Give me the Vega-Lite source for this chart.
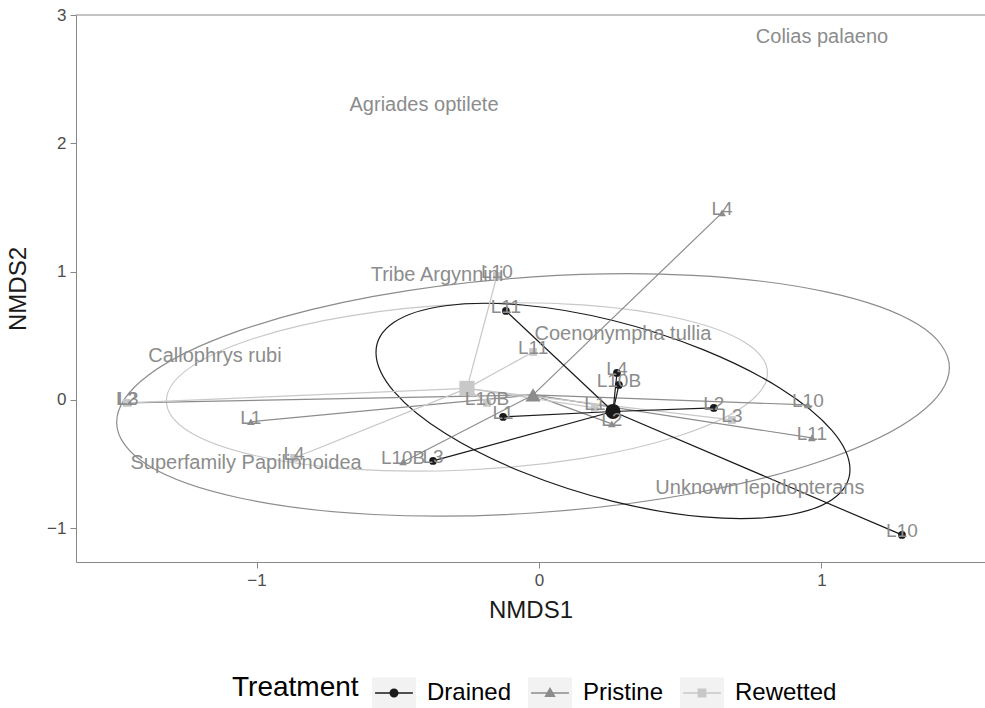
{
"$schema":"https://vega.github.io/schema/vega-lite/v6.json",
"width":909,"height":547,
"autosize":{"type":"none"},
"padding":{"left":76,"top":15,"right":0,"bottom":146},
"background":"white",
"config":{"view":{"stroke":null},"font":"Liberation Sans",
 "range":{"category":["#1a1a1a","#8c8c8c","#c8c8c8"],"symbol":["circle","triangle-up","square"]},
 "axis":{"grid":false,"domainColor":"#888888","tickColor":"#888888","labelColor":"#4d4d4d","titleColor":"#1a1a1a","titleFontWeight":"normal","labelFontSize":17,"titleFontSize":24,"tickSize":6,"labelPadding":4},
 "axisX":{"titlePadding":10},
 "axisY":{"titlePadding":16}},
"datasets":{
 "ellipses":[
  {"Treatment":"Pristine","k":0,"x":1.453,"y":0.253},{"Treatment":"Pristine","k":1,"x":1.341,"y":0.589},{"Treatment":"Pristine","k":2,"x":1.021,"y":0.840},{"Treatment":"Pristine","k":3,"x":0.544,"y":0.971},
  {"Treatment":"Pristine","k":4,"x":-0.021,"y":0.959},{"Treatment":"Pristine","k":5,"x":-0.586,"y":0.807},{"Treatment":"Pristine","k":6,"x":-1.063,"y":0.538},{"Treatment":"Pristine","k":7,"x":-1.383,"y":0.193},
  {"Treatment":"Pristine","k":8,"x":-1.495,"y":-0.175},{"Treatment":"Pristine","k":9,"x":-1.383,"y":-0.511},{"Treatment":"Pristine","k":10,"x":-1.063,"y":-0.762},{"Treatment":"Pristine","k":11,"x":-0.586,"y":-0.893},
  {"Treatment":"Pristine","k":12,"x":-0.021,"y":-0.881},{"Treatment":"Pristine","k":13,"x":0.544,"y":-0.729},{"Treatment":"Pristine","k":14,"x":1.021,"y":-0.460},{"Treatment":"Pristine","k":15,"x":1.341,"y":-0.115},
  {"Treatment":"Rewetted","k":0,"x":0.809,"y":0.210},{"Treatment":"Rewetted","k":1,"x":0.728,"y":0.450},{"Treatment":"Rewetted","k":2,"x":0.497,"y":0.635},{"Treatment":"Rewetted","k":3,"x":0.153,"y":0.741},
  {"Treatment":"Rewetted","k":4,"x":-0.255,"y":0.748},{"Treatment":"Rewetted","k":5,"x":-0.663,"y":0.657},{"Treatment":"Rewetted","k":6,"x":-1.007,"y":0.481},{"Treatment":"Rewetted","k":7,"x":-1.238,"y":0.248},
  {"Treatment":"Rewetted","k":8,"x":-1.319,"y":-0.008},{"Treatment":"Rewetted","k":9,"x":-1.238,"y":-0.248},{"Treatment":"Rewetted","k":10,"x":-1.007,"y":-0.433},{"Treatment":"Rewetted","k":11,"x":-0.663,"y":-0.539},
  {"Treatment":"Rewetted","k":12,"x":-0.255,"y":-0.546},{"Treatment":"Rewetted","k":13,"x":0.153,"y":-0.455},{"Treatment":"Rewetted","k":14,"x":0.497,"y":-0.279},{"Treatment":"Rewetted","k":15,"x":0.728,"y":-0.046},
  {"Treatment":"Drained","k":0,"x":1.101,"y":-0.542},{"Treatment":"Drained","k":1,"x":1.037,"y":-0.237},{"Treatment":"Drained","k":2,"x":0.855,"y":0.090},{"Treatment":"Drained","k":3,"x":0.583,"y":0.390},
  {"Treatment":"Drained","k":4,"x":0.262,"y":0.619},{"Treatment":"Drained","k":5,"x":-0.059,"y":0.740},{"Treatment":"Drained","k":6,"x":-0.331,"y":0.734},{"Treatment":"Drained","k":7,"x":-0.513,"y":0.605},
  {"Treatment":"Drained","k":8,"x":-0.577,"y":0.370},{"Treatment":"Drained","k":9,"x":-0.513,"y":0.065},{"Treatment":"Drained","k":10,"x":-0.331,"y":-0.262},{"Treatment":"Drained","k":11,"x":-0.059,"y":-0.562},
  {"Treatment":"Drained","k":12,"x":0.262,"y":-0.791},{"Treatment":"Drained","k":13,"x":0.583,"y":-0.912},{"Treatment":"Drained","k":14,"x":0.855,"y":-0.906},{"Treatment":"Drained","k":15,"x":1.037,"y":-0.777}
 ],
 "sites":[
  {"Treatment":"Pristine","Site":"L4","x":0.648,"y":1.458,"cx":-0.021,"cy":0.039},
  {"Treatment":"Pristine","Site":"L3","x":-1.455,"y":-0.023,"cx":-0.021,"cy":0.039},
  {"Treatment":"Pristine","Site":"L1","x":-1.02,"y":-0.17,"cx":-0.021,"cy":0.039},
  {"Treatment":"Pristine","Site":"L10B","x":-0.481,"y":-0.483,"cx":-0.021,"cy":0.039},
  {"Treatment":"Pristine","Site":"L10","x":0.952,"y":-0.039,"cx":-0.021,"cy":0.039},
  {"Treatment":"Pristine","Site":"L11","x":0.966,"y":-0.296,"cx":-0.021,"cy":0.039},
  {"Treatment":"Pristine","Site":"L2","x":0.258,"y":-0.187,"cx":-0.021,"cy":0.039},
  {"Treatment":"Rewetted","Site":"L10","x":-0.149,"y":0.966,"cx":-0.255,"cy":0.09},
  {"Treatment":"Rewetted","Site":"L11","x":-0.021,"y":0.374,"cx":-0.255,"cy":0.09},
  {"Treatment":"Rewetted","Site":"L10B","x":-0.184,"y":-0.023,"cx":-0.255,"cy":0.09},
  {"Treatment":"Rewetted","Site":"L1","x":0.198,"y":-0.062,"cx":-0.255,"cy":0.09},
  {"Treatment":"Rewetted","Site":"L3","x":0.683,"y":-0.156,"cx":-0.255,"cy":0.09},
  {"Treatment":"Rewetted","Site":"L4","x":-0.867,"y":-0.452,"cx":-0.255,"cy":0.09},
  {"Treatment":"Rewetted","Site":"L2","x":-1.46,"y":-0.023,"cx":-0.255,"cy":0.09},
  {"Treatment":"Drained","Site":"L11","x":-0.117,"y":0.694,"cx":0.262,"cy":-0.09},
  {"Treatment":"Drained","Site":"L4","x":0.276,"y":0.21,"cx":0.262,"cy":-0.09},
  {"Treatment":"Drained","Site":"L10B","x":0.283,"y":0.117,"cx":0.262,"cy":-0.09},
  {"Treatment":"Drained","Site":"L2","x":0.619,"y":-0.062,"cx":0.262,"cy":-0.09},
  {"Treatment":"Drained","Site":"L10","x":1.285,"y":-1.052,"cx":0.262,"cy":-0.09},
  {"Treatment":"Drained","Site":"L3","x":-0.375,"y":-0.475,"cx":0.262,"cy":-0.09},
  {"Treatment":"Drained","Site":"L1","x":-0.127,"y":-0.132,"cx":0.262,"cy":-0.09}
 ],
 "centroids":[
  {"Treatment":"Pristine","x":-0.021,"y":0.039},
  {"Treatment":"Rewetted","x":-0.255,"y":0.09},
  {"Treatment":"Drained","x":0.262,"y":-0.09}
 ],
 "species":[
  {"Species":"Colias palaeno","x":1.002,"y":2.829},
  {"Species":"Agriades optilete","x":-0.407,"y":2.299},
  {"Species":"Tribe Argynnini","x":-0.361,"y":0.974},
  {"Species":"Coenonympha tullia","x":0.297,"y":0.514},
  {"Species":"Callophrys rubi","x":-1.147,"y":0.343},
  {"Species":"Superfamily Papilionoidea","x":-1.037,"y":-0.491},
  {"Species":"Unknown lepidopterans","x":0.782,"y":-0.686}
 ],
 "frame":[{"y":3}]
},
"layer":[
 {"data":{"name":"ellipses"},
  "mark":{"type":"line","interpolate":"cardinal-closed","strokeWidth":1.2},
  "encoding":{
   "x":{"field":"x","type":"quantitative","scale":{"domain":[-1.639,1.579],"nice":false,"zero":false},"axis":{"values":[-1,0,1],"title":"NMDS1","format":"d"}},
   "y":{"field":"y","type":"quantitative","scale":{"domain":[-1.263,3],"nice":false,"zero":false},"axis":{"values":[-1,0,1,2,3],"title":"NMDS2","format":"d"}},
   "color":{"field":"Treatment","type":"nominal","legend":null},
   "detail":{"field":"Treatment"},
   "order":{"field":"k","type":"quantitative"}
  }},
 {"data":{"name":"frame"},
  "mark":{"type":"rule","color":"#888888","strokeWidth":1},
  "encoding":{"y":{"field":"y","type":"quantitative","title":"NMDS2"}}},
 {"data":{"name":"sites"},
  "mark":{"type":"rule","strokeWidth":1.2},
  "encoding":{
   "x":{"field":"x","type":"quantitative","title":"NMDS1"},"y":{"field":"y","type":"quantitative","title":"NMDS2"},
   "x2":{"field":"cx"},"y2":{"field":"cy"},
   "color":{"field":"Treatment","type":"nominal","legend":null}
  }},
 {"data":{"name":"sites"},
  "mark":{"type":"point","filled":true,"opacity":1,"size":60},
  "encoding":{
   "x":{"field":"x","type":"quantitative","title":"NMDS1"},"y":{"field":"y","type":"quantitative","title":"NMDS2"},
   "color":{"field":"Treatment","type":"nominal","legend":null},
   "shape":{"field":"Treatment","type":"nominal","legend":null}
  }},
 {"data":{"name":"centroids"},
  "mark":{"type":"point","filled":true,"opacity":1,"size":230},
  "encoding":{
   "x":{"field":"x","type":"quantitative","title":"NMDS1"},"y":{"field":"y","type":"quantitative","title":"NMDS2"},
   "color":{"field":"Treatment","type":"nominal","legend":null},
   "shape":{"field":"Treatment","type":"nominal","legend":null}
  }},
 {"data":{"name":"sites"},
  "mark":{"type":"text","fontSize":19,"color":"#8c8c8c","dy":-4,"baseline":"middle","align":"center"},
  "encoding":{"x":{"field":"x","type":"quantitative","title":"NMDS1"},"y":{"field":"y","type":"quantitative","title":"NMDS2"},"text":{"field":"Site"}}},
 {"data":{"name":"species"},
  "mark":{"type":"text","fontSize":20,"color":"#8c8c8c","baseline":"middle","align":"center"},
  "encoding":{"x":{"field":"x","type":"quantitative","title":"NMDS1"},"y":{"field":"y","type":"quantitative","title":"NMDS2"},"text":{"field":"Species"}}},
 {"data":{"name":"centroids"},
  "mark":{"type":"point","filled":true,"opacity":0,"size":10},
  "encoding":{
   "x":{"field":"x","type":"quantitative","title":"NMDS1"},"y":{"field":"y","type":"quantitative","title":"NMDS2"},
   "color":{"field":"Treatment","type":"nominal","scale":{"range":["#f2f2f2","#f2f2f2","#f2f2f2"]},"legend":{
     "orient":"none","legendX":156,"legendY":656,"direction":"horizontal","title":"Treatment","titleOrient":"left","titleAnchor":"middle","titleBaseline":"middle","titleFontSize":28,"titleFontWeight":"normal","titleOpacity":0,"titlePadding":13,
     "labelFontSize":24,"labelOpacity":0,"symbolSize":1936,"symbolOpacity":1,"symbolStrokeWidth":0,"labelOffset":11,"columnPadding":16,"padding":0}},
   "shape":{"field":"Treatment","type":"nominal","scale":{"range":["M-1,-0.73H1V0.73H-1Z","M-1,-0.73H1V0.73H-1Z","M-1,-0.73H1V0.73H-1Z"]},"legend":{
     "orient":"none","legendX":156,"legendY":656,"direction":"horizontal","title":"Treatment","titleOrient":"left","titleAnchor":"middle","titleBaseline":"middle","titleFontSize":28,"titleFontWeight":"normal","titleOpacity":0,"titlePadding":13,
     "labelFontSize":24,"labelOpacity":0,"symbolSize":1936,"symbolOpacity":1,"symbolStrokeWidth":0,"labelOffset":11,"columnPadding":16,"padding":0}}
  }},
 {"data":{"name":"centroids"},
  "mark":{"type":"point","filled":true,"opacity":0,"size":10},
  "encoding":{
   "x":{"field":"x","type":"quantitative","title":"NMDS1"},"y":{"field":"y","type":"quantitative","title":"NMDS2"},
   "color":{"field":"Treatment","type":"nominal","legend":{
     "orient":"none","legendX":156,"legendY":656,"direction":"horizontal","title":"Treatment","titleOrient":"left","titleAnchor":"middle","titleBaseline":"middle","titleFontSize":28,"titleFontWeight":"normal","titleColor":"#000000","titlePadding":13,
     "labelFontSize":24,"labelColor":"#000000","symbolSize":1936,"symbolOpacity":1,"symbolStrokeWidth":0,"labelOffset":11,"columnPadding":16,"padding":0}},
   "shape":{"field":"Treatment","type":"nominal","scale":{"range":["M-0.86,-0.03H0.86V0.03H-0.86ZM0.205,0A0.205,0.205,0,1,1,-0.205,0A0.205,0.205,0,1,1,0.205,0Z","M-0.86,-0.03H0.86V0.03H-0.86ZM0,-0.27L0.26,0.18L-0.26,0.18Z","M-0.86,-0.03H0.86V0.03H-0.86ZM-0.2,-0.2H0.2V0.2H-0.2Z"]},"legend":{
     "orient":"none","legendX":156,"legendY":656,"direction":"horizontal","title":"Treatment","titleOrient":"left","titleAnchor":"middle","titleBaseline":"middle","titleFontSize":28,"titleFontWeight":"normal","titleColor":"#000000","titlePadding":13,
     "labelFontSize":24,"labelColor":"#000000","symbolSize":1936,"symbolOpacity":1,"symbolStrokeWidth":0,"labelOffset":11,"columnPadding":16,"padding":0}}
  }}
],
"resolve":{"scale":{"color":"independent","shape":"independent"},"legend":{"color":"independent","shape":"independent"}}
}
